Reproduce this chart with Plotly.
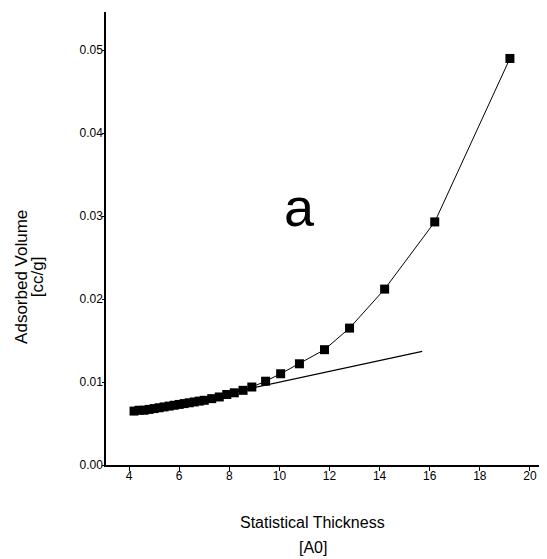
import plotly.graph_objects as go

# Data (t-plot)
thickness = [4.2, 4.4, 4.6, 4.8, 5.0, 5.2, 5.4, 5.6, 5.8, 6.0, 6.2, 6.4, 6.6, 6.8, 7.0,
             7.3, 7.6, 7.9, 8.2, 8.55, 8.9, 9.45, 10.05, 10.8, 11.8, 12.8, 14.2, 16.2, 19.2]
volume = [0.0065, 0.0066, 0.0066, 0.0067, 0.0068, 0.0069, 0.0070, 0.0071, 0.0072, 0.0073,
          0.0074, 0.0075, 0.0076, 0.0077, 0.0078, 0.0080, 0.0082, 0.0085, 0.0087, 0.0090,
          0.0094, 0.0101, 0.0110, 0.0122, 0.0139, 0.0165, 0.0212, 0.0293, 0.0490]

fit_x = [4.2, 15.7]
fit_y = [0.0062, 0.0137]

x_ticks = [4, 6, 8, 10, 12, 14, 16, 18, 20]
y_ticks = [0.00, 0.01, 0.02, 0.03, 0.04, 0.05]

font = "Liberation Sans, Arial, sans-serif"

fig = go.Figure()
fig.add_trace(go.Scatter(x=fit_x, y=fit_y, mode="lines",
                         line=dict(color="black", width=1.3), showlegend=False))
fig.add_trace(go.Scatter(x=thickness, y=volume, mode="lines+markers",
                         line=dict(color="black", width=1),
                         marker=dict(symbol="square", size=9, color="black"),
                         showlegend=False))

fig.add_annotation(x=10.8, y=0.0311, text="a", showarrow=False,
                   font=dict(family=font, size=54, color="black"))

fig.add_annotation(xref="paper", yref="paper", x=0.469, y=-0.126, yanchor="middle",
                   text="Statistical Thickness", showarrow=False,
                   font=dict(family=font, size=16, color="black"))
fig.add_annotation(xref="paper", yref="paper", x=0.469, y=-0.183, yanchor="middle",
                   text="[A0]", showarrow=False,
                   font=dict(family=font, size=16, color="black"))
fig.add_annotation(xref="paper", yref="paper", x=-0.193, y=0.415, xanchor="center",
                   text="Adsorbed Volume", showarrow=False, textangle=-90,
                   font=dict(family=font, size=17, color="black"))
fig.add_annotation(xref="paper", yref="paper", x=-0.156, y=0.415, xanchor="center",
                   text="[cc/g]", showarrow=False, textangle=-90,
                   font=dict(family=font, size=17, color="black"))

fig.update_layout(
    width=547, height=559,
    margin=dict(l=98, r=8, t=4, b=102),
    plot_bgcolor="white", paper_bgcolor="white",
    font=dict(family=font, size=12, color="black"),
    xaxis=dict(range=[3.08, 20.68], tickvals=x_ticks, showgrid=False, zeroline=False,
               showline=True, linecolor="black", linewidth=1.5,
               ticks="outside", ticklen=4, tickcolor="black", ticklabelstandoff=-5),
    yaxis=dict(range=[0, 0.0546], tickvals=y_ticks, tickformat=".2f", showgrid=False,
               zeroline=False, showline=True, linecolor="black", linewidth=1.5,
               ticks="outside", ticklen=2, tickcolor="black", ticklabelstandoff=-3),
)

fig.write_html("out.html")
